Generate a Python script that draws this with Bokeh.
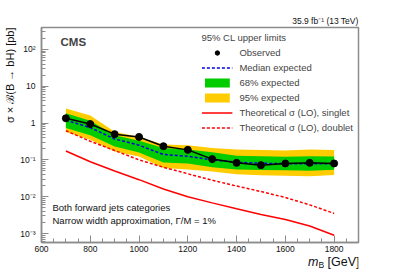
import numpy as np
from bokeh.plotting import figure
from bokeh.layouts import column
from bokeh.models import (Label, Legend, LegendItem, SingleIntervalTicker,
                          CustomJSTickFormatter, LogTicker, Title, Range1d)
from bokeh.embed import file_html
from bokeh.resources import INLINE

# ---------------- data ----------------
mass = [700, 800, 900, 1000, 1100, 1200, 1300, 1400, 1500, 1600, 1700, 1800]
observed = [1.35, 0.94, 0.50, 0.42, 0.235, 0.187, 0.105, 0.083, 0.072, 0.080, 0.083, 0.080]
expected = [1.20, 0.75, 0.37, 0.25, 0.140, 0.125, 0.100, 0.086, 0.081, 0.079, 0.079, 0.079]
exp68_lo = [0.73, 0.47, 0.23, 0.158, 0.085, 0.080, 0.063, 0.055, 0.053, 0.052, 0.051, 0.054]
exp68_hi = [1.85, 1.15, 0.47, 0.33, 0.210, 0.190, 0.160, 0.130, 0.125, 0.122, 0.125, 0.123]
exp95_lo = [0.57, 0.35, 0.17, 0.123, 0.060, 0.055, 0.048, 0.041, 0.038, 0.037, 0.036, 0.039]
exp95_hi = [2.50, 1.60, 0.58, 0.42, 0.260, 0.250, 0.210, 0.190, 0.185, 0.180, 0.190, 0.186]
theory_singlet = [0.174, 0.089, 0.050, 0.029, 0.0162, 0.0100, 0.0068, 0.0047, 0.0033, 0.0024, 0.0016, 0.0009]
theory_doublet = [0.62, 0.32, 0.18, 0.100, 0.063, 0.042, 0.028, 0.0195, 0.0138, 0.0095, 0.0060, 0.0035]

legend_labels = ["Observed", "Median expected", "68% expected", "95% expected",
                 "Theoretical \u03c3 (LO), singlet", "Theoretical \u03c3 (LO), doublet"]

# ---------------- layout constants ----------------
XMIN, XMAX = 600, 1900
YMIN, YMAX = 5.7e-4, 394
FONT = "Liberation Sans"
GRAY = "#8c8c8c"
TXT = "#111111"

p = figure(width=399, height=256, y_axis_type="log",
           x_range=(XMIN, XMAX), y_range=(YMIN, YMAX),
           output_backend="svg", toolbar_location=None,
           min_border_left=41, min_border_right=41,
           min_border_top=27, min_border_bottom=14)
p.grid.visible = False
p.outline_line_color = GRAY
p.outline_line_width = 1.5
p.background_fill_color = "white"

# bands
r95 = p.varea(x=mass, y1=exp95_lo, y2=exp95_hi, fill_color="#ffcc00")
r68 = p.varea(x=mass, y1=exp68_lo, y2=exp68_hi, fill_color="#00cc00")
# theory
rs = p.line(mass, theory_singlet, line_color="#ff0000", line_width=1.5)
rd = p.line(mass, theory_doublet, line_color="#ff0000", line_width=1.5, line_dash="3 2")
# expected
re = p.line(mass, expected, line_color="#0000dd", line_width=1.5, line_dash="3 2")
# observed
p.line(mass, observed, line_color="black", line_width=1.5)
ro = p.scatter(mass, observed, size=7, marker="circle", fill_color="black", line_color="black")

legend = Legend(items=[
    LegendItem(label=legend_labels[0], renderers=[ro]),
    LegendItem(label=legend_labels[1], renderers=[re]),
    LegendItem(label=legend_labels[2], renderers=[r68]),
    LegendItem(label=legend_labels[3], renderers=[r95]),
    LegendItem(label=legend_labels[4], renderers=[rs]),
    LegendItem(label=legend_labels[5], renderers=[rd]),
], location="top_right", title="95% CL upper limits")
legend.title_text_font = FONT
legend.title_text_font_size = "9.5px"
legend.title_text_font_style = "normal"
legend.title_standoff = 4
legend.label_text_font = FONT
legend.label_text_font_size = "9.5px"
legend.label_height = 11
legend.glyph_height = 11
legend.glyph_width = 31
legend.spacing = 4
legend.label_standoff = 7
legend.padding = 2
legend.margin = 3
legend.border_line_alpha = 0
legend.background_fill_alpha = 0
p.add_layout(legend)

# axes styling
for ax in (p.xaxis[0], p.yaxis[0]):
    ax.axis_line_color = GRAY
    ax.axis_line_width = 1.5
    ax.major_tick_line_color = GRAY
    ax.minor_tick_line_color = GRAY
    ax.major_tick_out = 0
    ax.minor_tick_out = 0
    ax.major_tick_in = 7
    ax.minor_tick_in = 4
    ax.major_label_text_font = FONT
    ax.major_label_text_font_size = "8.5px"
    ax.major_label_text_color = TXT

p.xaxis.ticker = SingleIntervalTicker(interval=200, num_minor_ticks=4)
p.xaxis.major_label_standoff = 3
p.yaxis.ticker = LogTicker(num_minor_ticks=10)
p.yaxis.major_label_standoff = 6
p.yaxis.formatter = CustomJSTickFormatter(code="""
const e = Math.round(Math.log10(tick));
if (e === 0) return "1";
if (e === 1) return "10";
const sup = {"-": "\u207b", "0": "\u2070", "1": "\u00b9", "2": "\u00b2", "3": "\u00b3", "4": "\u2074"};
return "10" + String(e).split("").map(c => sup[c]).join("");
""")

# luminosity label (top right, above the frame)
p.title.text = "35.9 fb\u207b\u00b9 (13 TeV)"
p.title.align = "right"
p.title.text_font = FONT
p.title.text_font_size = "8.5px"
p.title.text_font_style = "normal"
p.title.text_color = TXT
p.title.standoff = 4

# y-axis title (top aligned, left of the axis)
p.add_layout(Title(text="\u03c3 \u00d7 \u212c(B \u2192 bH) [pb]", align="right",
                   text_font=FONT, text_font_size="11px", text_font_style="normal",
                   text_color=TXT, standoff=3), "left")

# texts inside the frame
p.add_layout(Label(x=XMIN, y=YMAX, x_offset=19, y_offset=-14.5, text="CMS",
                   text_align="left", text_baseline="middle",
                   text_font=FONT, text_font_style="bold", text_font_size="11.5px"))
p.add_layout(Label(x=XMIN, y=YMIN, x_offset=11, y_offset=35.5,
                   text="Both forward jets categories",
                   text_align="left", text_baseline="middle",
                   text_font=FONT, text_font_size="9.5px", text_color=TXT))
p.add_layout(Label(x=XMIN, y=YMIN, x_offset=11, y_offset=22,
                   text="Narrow width approximation, \u0393/M = 1%",
                   text_align="left", text_baseline="middle",
                   text_font=FONT, text_font_size="9.5px", text_color=TXT))

# x-axis title strip, sharing the x range
q = figure(width=399, height=14, x_range=p.x_range, y_range=Range1d(0, 1),
           output_backend="svg", toolbar_location=None,
           x_axis_location=None, y_axis_location=None,
           min_border_left=41, min_border_right=41,
           min_border_top=0, min_border_bottom=0)
q.grid.visible = False
q.outline_line_color = None
q.add_layout(Label(x=XMAX, y=1, x_offset=1, y_offset=2, text="[GeV]",
                   text_align="right", text_baseline="top",
                   text_font=FONT, text_font_size="12.5px", text_color=TXT))
q.add_layout(Label(x=XMAX, y=1, x_offset=-40, y_offset=2, text="m",
                   text_align="right", text_baseline="top",
                   text_font=FONT, text_font_style="italic",
                   text_font_size="12.5px", text_color=TXT))
q.add_layout(Label(x=XMAX, y=1, x_offset=-40, y_offset=-3, text="B",
                   text_align="left", text_baseline="top",
                   text_font=FONT, text_font_size="8.5px", text_color=TXT))

layout = column(p, q, spacing=0)
open("out.html", "w").write(file_html(layout, INLINE))
